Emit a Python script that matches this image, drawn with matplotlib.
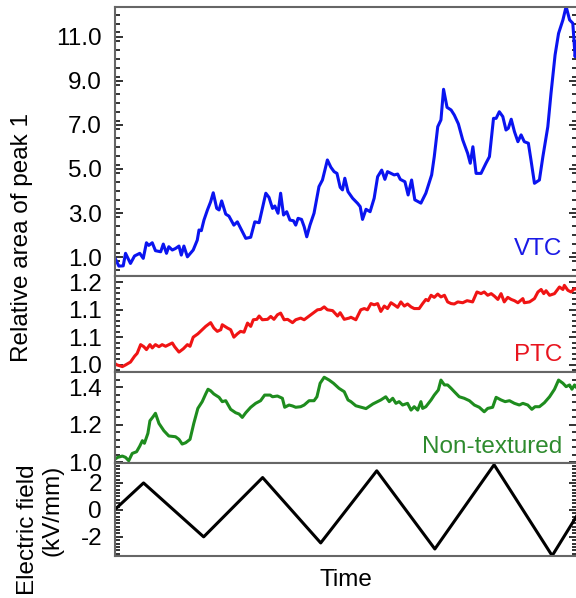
import matplotlib
matplotlib.use("Agg")
import matplotlib.pyplot as plt
from matplotlib.ticker import FixedLocator, MultipleLocator, FormatStrFormatter, NullLocator

plt.rcParams['font.family'] = ['Liberation Sans', 'DejaVu Sans']

# ---- data -------------------------------------------------------------
vtc_time = [0.00, 0.15, 0.30, 0.38, 0.55, 0.69, 0.87, 0.99, 1.10, 1.18, 1.30, 1.41, 1.59, 1.68,
            1.79, 1.87, 1.99, 2.10, 2.22, 2.30, 2.39, 2.51, 2.71, 2.85, 2.91, 2.99, 3.08, 3.20,
            3.31, 3.40, 3.52, 3.60, 3.69, 3.83, 3.94, 4.11, 4.23, 4.52, 4.69, 4.83, 4.98, 5.21,
            5.32, 5.44, 5.52, 5.63, 5.72, 5.82, 5.93, 6.04, 6.16, 6.24, 6.32, 6.44, 6.53, 6.62,
            6.73, 6.87, 7.04, 7.16, 7.33, 7.45, 7.56, 7.66, 7.77, 7.85, 7.93, 8.04, 8.20, 8.37,
            8.46, 8.54, 8.66, 8.80, 8.94, 9.06, 9.20, 9.31, 9.40, 9.52, 9.63, 9.75, 9.84, 10.00,
            10.11, 10.23, 10.34, 10.55, 10.72, 10.92, 11.01, 11.13, 11.24, 11.33, 11.45, 11.59,
            11.70, 11.84, 11.99, 12.16, 12.25, 12.34, 12.45, 12.62, 12.79, 12.91, 13.05, 13.14,
            13.25, 13.37, 13.48, 13.56, 13.66, 13.77, 13.89, 14.00, 14.11, 14.25, 14.34, 14.46,
            14.63, 14.75, 14.92, 15.03, 15.17, 15.29, 15.44, 15.55, 15.67, 15.78, 15.86, 15.93]
vtc_value = [1.00, 0.59, 0.60, 1.17, 0.71, 1.05, 1.17, 0.94, 1.65, 1.53, 1.65, 1.29, 1.24, 1.59,
             1.17, 1.47, 1.32, 1.39, 1.50, 1.09, 1.50, 1.01, 1.32, 1.77, 2.23, 2.20, 2.68, 3.14,
             3.51, 3.92, 3.21, 3.14, 3.55, 2.95, 2.86, 2.45, 2.60, 1.85, 1.90, 2.60, 2.56, 3.90,
             3.71, 3.21, 3.32, 2.99, 3.90, 2.91, 3.06, 2.68, 2.65, 2.45, 2.76, 2.71, 2.38, 1.92,
             2.45, 2.99, 4.20, 4.50, 5.41, 5.08, 4.88, 4.80, 4.17, 4.05, 4.58, 3.97, 3.67, 3.44,
             3.29, 2.71, 3.17, 3.06, 3.67, 4.65, 4.95, 4.53, 4.88, 4.80, 4.73, 4.77, 4.53, 4.42,
             3.82, 4.50, 3.60, 3.45, 3.90, 4.73, 5.56, 6.92, 7.23, 8.62, 7.80, 7.68,
             7.45, 7.05, 6.32, 5.71, 5.26, 6.01, 4.80, 4.80, 5.26, 5.56, 7.30, 7.30,
             7.60, 7.38, 6.77, 6.85, 7.26, 6.70, 6.24, 6.55, 6.24, 6.17, 5.41, 4.35,
             4.50, 5.56, 6.92, 8.44, 10.18, 11.16, 11.77, 12.38, 11.77, 11.62, 10.10, 10.86]

ptc_time = [0.00, 0.09, 0.27, 0.38, 0.55, 0.69, 0.78, 0.90, 1.01, 1.10, 1.22, 1.30, 1.41, 1.53,
            1.64, 1.76, 1.99, 2.07, 2.22, 2.37, 2.51, 2.60, 2.71, 2.87, 3.02, 3.14, 3.31, 3.42,
            3.54, 3.66, 3.71, 3.89, 4.00, 4.11, 4.23, 4.34, 4.46, 4.58, 4.69, 4.78, 4.90, 4.98,
            5.09, 5.27, 5.38, 5.49, 5.61, 5.72, 5.84, 5.96, 6.13, 6.24, 6.41, 6.53, 6.76, 6.99,
            7.10, 7.22, 7.33, 7.51, 7.68, 7.77, 7.91, 8.08, 8.14, 8.31, 8.48, 8.60, 8.71, 8.83,
            8.94, 9.06, 9.17, 9.29, 9.40, 9.52, 9.63, 9.75, 9.86, 9.98, 10.09, 10.21, 10.32,
            10.49, 10.61, 10.72, 10.80, 10.90, 11.01, 11.13, 11.24, 11.36, 11.47, 11.59, 11.70,
            11.82, 11.99, 12.14, 12.33, 12.48, 12.62, 12.73, 12.85, 12.97, 13.08, 13.20, 13.31,
            13.42, 13.54, 13.66, 13.77, 13.89, 14.06, 14.11, 14.29, 14.46, 14.58, 14.69, 14.78,
            14.86, 14.98, 15.15, 15.32, 15.44, 15.49, 15.61, 15.72, 15.84, 15.93]
ptc_value = [1.004, 1.000, 0.996, 1.000, 1.007, 1.021, 1.028, 1.049, 1.044, 1.037, 1.049, 1.041,
             1.049, 1.044, 1.049, 1.045, 1.053, 1.044, 1.031, 1.039, 1.049, 1.045, 1.067, 1.075,
             1.085, 1.093, 1.102, 1.089, 1.081, 1.085, 1.097, 1.089, 1.085, 1.067, 1.075, 1.081,
             1.079, 1.101, 1.093, 1.109, 1.110, 1.118, 1.109, 1.110, 1.117, 1.110, 1.121, 1.125,
             1.109, 1.110, 1.102, 1.109, 1.113, 1.109, 1.121, 1.133, 1.134, 1.140, 1.133, 1.131,
             1.118, 1.126, 1.110, 1.113, 1.115, 1.109, 1.133, 1.136, 1.133, 1.148, 1.145, 1.148,
             1.129, 1.142, 1.136, 1.150, 1.145, 1.139, 1.152, 1.142, 1.147, 1.140, 1.136, 1.136,
             1.148, 1.158, 1.155, 1.168, 1.163, 1.171, 1.164, 1.168, 1.152, 1.148, 1.147, 1.152,
             1.150, 1.155, 1.152, 1.176, 1.172, 1.176, 1.168, 1.172, 1.166, 1.158, 1.172, 1.152,
             1.163, 1.158, 1.155, 1.150, 1.160, 1.150, 1.152, 1.160, 1.176, 1.182, 1.172, 1.179,
             1.168, 1.172, 1.188, 1.182, 1.192, 1.180, 1.176, 1.184, 1.182]

nt_time = [0.00, 0.11, 0.27, 0.38, 0.49, 0.61, 0.76, 0.87, 0.96, 1.03, 1.15, 1.22, 1.33, 1.41,
           1.53, 1.70, 1.87, 2.10, 2.22, 2.33, 2.45, 2.60, 2.73, 2.87, 3.02, 3.14, 3.22, 3.31,
           3.42, 3.60, 3.71, 3.83, 4.00, 4.17, 4.29, 4.40, 4.52, 4.69, 4.86, 5.03, 5.17, 5.36,
           5.44, 5.61, 5.78, 5.86, 6.01, 6.13, 6.24, 6.41, 6.53, 6.70, 6.87, 6.97, 7.08, 7.22,
           7.39, 7.54, 7.73, 7.91, 8.04, 8.14, 8.31, 8.66, 8.90, 9.17, 9.34, 9.46, 9.58, 9.69,
           9.80, 9.92, 10.09, 10.21, 10.32, 10.44, 10.55, 10.61, 10.72, 10.90, 11.01, 11.15,
           11.24, 11.36, 11.47, 11.59, 11.70, 11.87, 12.04, 12.22, 12.39, 12.56, 12.73, 12.85,
           13.02, 13.14, 13.31, 13.45, 13.60, 13.77, 13.94, 14.06, 14.23, 14.37, 14.48, 14.63,
           14.80, 14.98, 15.15, 15.29, 15.44, 15.55, 15.67, 15.75, 15.84, 15.93]
nt_value = [1.014, 1.025, 1.032, 1.025, 1.007, 1.046, 1.055, 1.085, 1.114, 1.100, 1.153, 1.220,
            1.242, 1.260, 1.206, 1.167, 1.139, 1.135, 1.121, 1.096, 1.103, 1.121, 1.206, 1.286,
            1.322, 1.363, 1.388, 1.380, 1.363, 1.345, 1.322, 1.327, 1.281, 1.263, 1.256, 1.238,
            1.263, 1.292, 1.313, 1.327, 1.357, 1.357, 1.348, 1.352, 1.340, 1.292, 1.304, 1.299,
            1.292, 1.295, 1.304, 1.327, 1.327, 1.348, 1.420, 1.452, 1.437, 1.420, 1.393, 1.375,
            1.331, 1.322, 1.300, 1.285, 1.310, 1.331, 1.348, 1.322, 1.340, 1.313, 1.322, 1.304,
            1.313, 1.277, 1.295, 1.277, 1.322, 1.286, 1.295, 1.331, 1.357, 1.384, 1.437, 1.411,
            1.411, 1.393, 1.375, 1.348, 1.340, 1.327, 1.304, 1.292, 1.268, 1.286, 1.292, 1.345,
            1.331, 1.322, 1.327, 1.313, 1.304, 1.313, 1.304, 1.281, 1.295, 1.295, 1.316, 1.348,
            1.388, 1.437, 1.420, 1.402, 1.411, 1.388, 1.411, 1.393]

field_time = [0.0, 1.0, 3.07, 5.1, 7.1, 9.03, 11.03, 13.07, 15.07, 15.93]
field_value = [0.0, 2.0, -2.0, 2.4, -2.45, 2.9, -2.9, 3.35, -3.4, -0.4]

panel_labels = ["VTC", "PTC", "Non-textured"]
line_colors = ["#0a14f0", "#f01414", "#1e8c1e"]
text_colors = ["#1a1ae6", "#e8141e", "#2e8b2e"]

# ---- figure -----------------------------------------------------------
W, H = 576, 598
fig = plt.figure(figsize=(W / 100, H / 100), dpi=100)

def frac(top_px, bot_px):
    left = 114.5 / W
    return [left, 1 - bot_px / H, 1.0 - left + 0.002, (bot_px - top_px) / H]

ax1 = fig.add_axes(frac(6.5, 276))
ax2 = fig.add_axes(frac(276, 372), sharex=ax1)
ax3 = fig.add_axes(frac(372, 463), sharex=ax1)
ax4 = fig.add_axes(frac(463, 556), sharex=ax1)
axes = [ax1, ax2, ax3, ax4]

ax1.plot(vtc_time, vtc_value, color=line_colors[0], lw=2.2)
ax2.plot(ptc_time, ptc_value, color=line_colors[1], lw=2.2)
ax3.plot(nt_time, nt_value, color=line_colors[2], lw=2.2)
ax4.plot(field_time, field_value, color="black", lw=2.2)

ax1.set_xlim(0, 15.93)
ax1.set_ylim(0.14, 12.38)
ax2.set_ylim(0.983, 1.2145)
ax3.set_ylim(0.995, 1.48)
ax4.set_ylim(-3.42, 3.48)

ax1.yaxis.set_major_locator(FixedLocator([1, 3, 5, 7, 9, 11]))
ax1.yaxis.set_minor_locator(MultipleLocator(0.4))
ax2.yaxis.set_major_locator(FixedLocator([1.0, 1.0 + 0.2 / 3, 1.0 + 0.4 / 3, 1.2]))
ax2.yaxis.set_minor_locator(MultipleLocator(0.2 / 15))
ax3.yaxis.set_major_locator(FixedLocator([1.0, 1.2, 1.4]))
ax3.yaxis.set_minor_locator(MultipleLocator(0.04))
ax4.yaxis.set_major_locator(FixedLocator([-2, 0, 2]))
ax4.yaxis.set_minor_locator(MultipleLocator(0.25))

for ax in (ax1, ax2, ax3):
    ax.yaxis.set_major_formatter(FormatStrFormatter('%.1f'))
ax4.yaxis.set_major_formatter(FormatStrFormatter('%d'))

for ax in axes:
    ax.xaxis.set_major_locator(NullLocator())
    ax.xaxis.set_minor_locator(NullLocator())
    ax.tick_params(axis='y', which='both', direction='in', left=True, right=True,
                   labelsize=17.5, pad=9, color='#222222', width=1.3)
    ax.tick_params(axis='y', which='major', length=6)
    ax.tick_params(axis='y', which='minor', length=3.5)
    ax.tick_params(axis='x', labelbottom=False)
    for sp in ax.spines.values():
        sp.set_color('#666666')
        sp.set_linewidth(1.5)

for ax, lab, c in zip((ax1, ax2, ax3), panel_labels, text_colors):
    ax.text(0.968, 0.06, lab, transform=ax.transAxes, ha='right', va='bottom',
            color=c, fontsize=17.5)

ax4.set_xlabel("Time", fontsize=17.5, labelpad=9)

fig.text(22 / W, 1 - 237 / H, "Relative area of peak 1", rotation=90,
         ha='center', va='center', fontsize=17.5)
fig.text(40 / W, 1 - 530 / H, "Electric field\n(kV/mm)", rotation=90,
         ha='center', va='center', multialignment='right', fontsize=17.5,
         linespacing=1.15)

fig.savefig("out.png", dpi=100)
